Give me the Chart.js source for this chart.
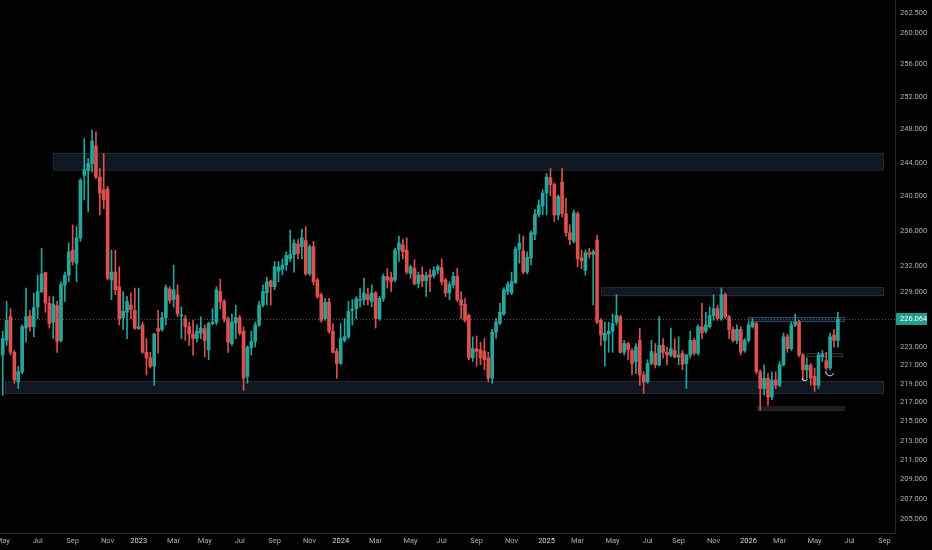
<!DOCTYPE html>
<html>
<head>
<meta charset="utf-8">
<script src="https://cdn.jsdelivr.net/npm/chart.js@4.4.0/dist/chart.umd.min.js"></script>
<style>
  html, body { margin: 0; padding: 0; background: #000; }
  #chart { display: block; }
</style>
</head>
<body>
<canvas id="chart" width="932" height="550"></canvas>
<script>
// weekly candles, first bar = week of 2022-05-02
const open = [
  222.1, 223.7, 226.3, 222.4, 219.2, 220.3, 225.05, 226.4, 225.2, 227.4,
  229.1, 231.25, 227.8, 225.7, 227.55, 223.7, 229.85, 230.95, 233.8, 232.3,
  235.2, 242.5, 243.1, 243.9, 246.0, 242.3, 240.8, 240.9, 230.4, 231.3,
  229.65, 226.2, 226.8, 227.6, 227.0, 225.0, 225.4, 222.4, 221.8, 220.9,
  225.0, 224.9, 226.2, 229.4, 228.2, 228.75, 226.4, 226.1, 225.2, 224.4,
  223.9, 224.5, 225.0, 222.7, 225.55, 225.7, 229.1, 228.0, 226.1, 223.35,
  225.6, 226.2, 224.7, 219.8, 222.9, 223.6, 225.4, 227.6, 228.95, 230.3,
  229.65, 231.4, 231.6, 232.1, 232.8, 233.3, 234.5, 234.2, 234.9, 231.1,
  234.2, 230.4, 228.75, 226.1, 227.9, 224.7, 222.5, 221.2, 223.7, 224.1,
  227.0, 227.2, 228.1, 228.2, 228.75, 228.0, 228.95, 226.1, 228.35, 230.8,
  230.7, 230.4, 233.8, 234.4, 233.8, 231.1, 231.7, 230.0, 231.0, 230.3,
  231.0, 230.9, 231.5, 231.8, 230.4, 228.95, 229.85, 230.8, 228.2, 227.7,
  226.45, 221.8, 222.8, 222.7, 222.5, 221.8, 219.6, 224.6, 225.6, 226.6,
  229.1, 228.95, 230.1, 233.9, 233.7, 231.3, 232.9, 235.6, 237.9, 238.9,
  240.4, 242.2, 241.4, 237.85, 241.7, 238.0, 235.8, 234.8, 238.0, 232.9,
  231.5, 233.5, 233.3, 234.9, 225.9, 223.7, 224.4, 224.7, 225.7, 226.3,
  222.4, 223.35, 222.6, 221.4, 223.7, 219.95, 219.2, 221.2, 222.3, 221.05,
  223.15, 222.4, 222.1, 222.6, 221.9, 222.3, 221.2, 222.1, 223.7, 222.3,
  225.2, 224.7, 225.2, 226.45, 227.2, 226.1, 228.75, 226.3, 224.9, 223.7,
  224.9, 222.6, 223.7, 225.2, 225.55, 220.3, 218.5, 219.6, 217.6, 219.4,
  218.85, 221.05, 224.1, 222.8, 225.4, 225.7, 222.1, 220.5, 221.0, 219.8,
  218.85, 221.9, 221.5, 220.7, 224.3, 223.7
];
const high = [
  224.7, 228.0, 227.2, 222.6, 220.9, 225.4, 229.5, 227.0, 228.95, 230.95,
  234.0, 231.3, 228.55, 228.55, 228.0, 230.2, 231.3, 234.6, 236.7, 236.5,
  242.1, 246.9, 244.5, 247.9, 247.7, 243.3, 245.1, 241.2, 233.8, 233.8,
  231.9, 229.1, 228.55, 228.95, 229.5, 229.5, 225.7, 223.9, 222.4, 224.5,
  227.0, 226.8, 229.85, 229.65, 232.1, 229.85, 227.4, 226.45, 225.7, 225.9,
  225.4, 226.3, 225.4, 225.7, 227.2, 229.65, 230.5, 228.2, 226.3, 226.6,
  227.6, 226.45, 225.2, 223.1, 224.7, 225.7, 228.0, 229.85, 230.7, 230.4,
  232.5, 232.5, 232.8, 233.6, 236.1, 235.0, 235.0, 236.2, 236.5, 234.4,
  234.8, 230.6, 228.95, 228.35, 228.35, 225.55, 222.8, 225.55, 226.1, 228.0,
  228.2, 228.55, 229.5, 230.6, 229.5, 229.85, 229.1, 228.55, 231.1, 231.7,
  231.3, 234.0, 235.4, 235.0, 235.2, 232.1, 232.7, 231.3, 231.9, 231.3,
  231.6, 231.9, 232.1, 232.8, 230.6, 230.2, 231.3, 231.7, 229.1, 228.35,
  226.6, 224.1, 224.2, 223.5, 223.9, 222.4, 224.9, 226.1, 227.8, 229.55,
  230.2, 231.3, 234.2, 235.6, 235.4, 233.6, 236.0, 238.5, 239.6, 240.8,
  242.7, 243.3, 241.6, 240.2, 243.3, 239.8, 236.7, 238.4, 238.2, 233.8,
  233.8, 234.0, 233.8, 235.5, 226.1, 225.7, 225.7, 226.6, 228.75, 226.45,
  223.7, 223.5, 222.8, 223.35, 225.05, 220.3, 221.6, 223.7, 223.35, 226.3,
  223.9, 223.0, 225.05, 223.9, 224.1, 222.6, 222.2, 224.7, 223.9, 225.4,
  227.8, 226.8, 227.4, 228.75, 227.6, 229.5, 228.95, 226.45, 225.2, 225.4,
  225.2, 223.9, 225.7, 226.1, 225.7, 220.5, 221.05, 220.1, 220.3, 220.3,
  221.4, 224.5, 224.4, 225.7, 226.6, 225.9, 222.3, 221.8, 221.2, 220.7,
  222.4, 222.6, 222.4, 224.5, 224.9, 226.8
];
const low = [
  217.8, 223.15, 222.1, 219.05, 218.5, 220.1, 223.5, 224.7, 224.1, 226.1,
  229.0, 226.8, 225.05, 223.9, 222.4, 223.5, 228.0, 230.2, 232.1, 230.2,
  234.8, 239.6, 238.2, 242.9, 242.1, 237.85, 238.6, 230.4, 228.2, 228.75,
  225.4, 224.9, 223.9, 226.1, 224.9, 224.9, 222.3, 219.95, 220.7, 218.85,
  222.3, 224.7, 225.4, 227.8, 227.4, 226.3, 223.9, 223.7, 223.15, 222.1,
  223.5, 223.9, 221.9, 221.6, 225.4, 225.4, 227.2, 225.7, 222.4, 223.15,
  223.9, 224.3, 218.3, 219.05, 222.1, 223.0, 225.2, 227.4, 227.6, 227.6,
  229.3, 230.2, 231.0, 231.5, 232.5, 231.3, 232.8, 232.8, 230.95, 230.9,
  229.85, 228.35, 225.7, 225.9, 224.5, 222.3, 219.6, 221.05, 223.5, 223.9,
  225.4, 226.1, 227.4, 227.6, 227.6, 227.4, 225.05, 225.9, 228.0, 229.5,
  229.1, 230.2, 232.5, 232.8, 231.1, 230.6, 229.85, 229.5, 229.65, 228.55,
  229.1, 230.6, 231.1, 229.85, 228.55, 228.2, 229.5, 228.0, 226.1, 225.7,
  221.6, 221.4, 220.9, 221.05, 220.5, 219.2, 219.05, 223.9, 225.4, 226.45,
  228.75, 228.75, 230.0, 232.3, 231.1, 231.1, 232.1, 235.0, 237.6, 237.85,
  237.85, 240.1, 237.1, 237.3, 237.6, 235.4, 234.4, 234.6, 231.9, 231.7,
  230.95, 232.9, 227.6, 225.55, 223.15, 220.9, 222.4, 222.4, 225.4, 222.3,
  222.1, 221.6, 219.95, 220.1, 218.85, 218.0, 219.05, 221.05, 220.7, 220.9,
  221.8, 221.05, 221.9, 221.8, 221.05, 220.5, 218.5, 221.8, 222.1, 222.1,
  223.9, 224.5, 225.05, 225.9, 225.9, 225.9, 226.1, 223.9, 223.5, 223.35,
  222.1, 222.4, 223.5, 225.05, 220.1, 216.2, 217.8, 216.7, 217.3, 218.5,
  218.7, 220.9, 222.4, 222.6, 225.2, 221.9, 219.4, 219.6, 218.85, 218.2,
  218.5, 221.4, 220.5, 220.5, 222.95, 222.95
];
const close = [
  223.9, 225.9, 222.4, 219.4, 220.3, 225.2, 226.3, 225.2, 227.3, 229.1,
  231.1, 227.8, 225.55, 227.7, 223.6, 229.9, 230.95, 233.6, 232.5, 235.2,
  241.9, 243.2, 243.9, 246.6, 242.3, 240.4, 239.6, 230.6, 231.3, 229.3,
  226.1, 226.9, 228.0, 227.1, 225.05, 225.2, 222.4, 221.8, 220.9, 224.4,
  224.7, 226.2, 229.55, 228.1, 229.3, 226.6, 226.45, 225.2, 224.4, 223.9,
  224.7, 225.05, 223.7, 225.55, 225.7, 229.3, 228.0, 226.1, 223.5, 225.7,
  226.2, 224.5, 219.6, 222.95, 223.6, 225.4, 227.6, 229.1, 230.2, 229.65,
  231.9, 231.9, 232.1, 233.2, 233.3, 234.6, 233.4, 235.2, 231.1, 234.2,
  230.2, 228.55, 225.9, 227.9, 224.7, 222.4, 221.2, 223.9, 224.1, 226.9,
  227.15, 228.3, 228.2, 228.95, 228.2, 228.95, 226.1, 228.35, 230.8, 230.4,
  230.2, 233.8, 234.6, 233.6, 231.3, 231.9, 230.0, 230.95, 230.3, 230.9,
  230.7, 231.5, 231.9, 230.2, 228.95, 229.9, 230.8, 228.2, 227.6, 225.9,
  221.8, 222.8, 222.5, 221.8, 221.6, 219.6, 224.6, 225.7, 226.8, 229.3,
  229.9, 230.2, 233.9, 234.6, 231.3, 233.0, 235.8, 237.9, 239.0, 240.4,
  242.3, 241.4, 237.85, 240.0, 238.0, 235.8, 235.0, 238.1, 232.8, 232.6,
  233.5, 233.3, 233.6, 225.7, 224.3, 224.5, 224.7, 225.55, 226.45, 222.4,
  223.35, 222.7, 221.2, 223.0, 219.95, 219.2, 221.2, 222.5, 221.05, 223.15,
  222.4, 222.1, 222.8, 221.9, 222.1, 221.1, 222.1, 223.7, 222.3, 225.2,
  224.5, 225.4, 226.45, 227.2, 226.1, 228.75, 226.3, 224.9, 223.7, 224.9,
  222.4, 223.7, 225.4, 225.7, 220.3, 218.5, 219.6, 217.6, 219.4, 218.85,
  221.05, 224.1, 222.8, 225.4, 225.7, 222.1, 220.5, 221.0, 219.6, 218.85,
  222.1, 222.2, 220.7, 224.1, 223.7, 226.064
];

const yTicks = [262.5, 260, 256, 252, 248, 244, 240, 236, 232, 229, 223, 221, 219, 217, 215, 213, 211, 209, 207, 205];
const xTickMonths = [
  "2022-05", "2022-07", "2022-09", "2022-11", "2023-01", "2023-03", "2023-05", "2023-07", "2023-09",
  "2023-11", "2024-01", "2024-03", "2024-05", "2024-07", "2024-09", "2024-11", "2025-01", "2025-03",
  "2025-05", "2025-07", "2025-09", "2025-11", "2026-01", "2026-03", "2026-05", "2026-07", "2026-09"
];
const xTickLabels = [
  "May", "Jul", "Sep", "Nov", "2023", "Mar", "May", "Jul", "Sep",
  "Nov", "2024", "Mar", "May", "Jul", "Sep", "Nov", "2025", "Mar",
  "May", "Jul", "Sep", "Nov", "2026", "Mar", "May", "Jul", "Sep"
];

// drawn zones: [from bar, to bar, low price, high price]
const zones = [
  [12.9, 226.8, 243.1, 245.2],
  [0.6, 226.8, 217.9, 219.3],
  [154.0, 226.8, 228.55, 229.6],
  [191.9, 216.8, 225.7, 226.3],
  [207.0, 216.2, 221.9, 222.3],
  [194.1, 216.8, 216.1, 216.6]
];
// small hand-drawn arcs: [bar, price]
const marks = [[206.5, 219.6], [212.9, 220.3]];

const zoneStyles = [
  { fill: "rgba(26,38,54,0.6)", line: "rgba(50,64,80,0.5)" },
  { fill: "rgba(26,38,54,0.6)", line: "rgba(50,64,80,0.5)" },
  { fill: "rgba(26,38,54,0.6)", line: "rgba(50,64,80,0.5)" },
  { fill: "rgba(35,65,105,0.35)", line: "rgba(75,105,140,0.55)" },
  { fill: "rgba(40,40,40,0.3)", line: "rgba(85,85,85,0.5)" },
  { fill: "rgba(50,50,54,0.6)", line: "rgba(50,50,54,0.4)" }
];

const upColor = "#26a69a";
const downColor = "#dc504e";
const lastPrice = close[close.length - 1];
const barColors = close.map((c, i) => (c >= open[i] ? upColor : downColor));

function firstBarOfMonth(m) {
  const [yy, mm] = m.split("-").map(Number);
  const start = Date.UTC(2022, 4, 2);
  return Math.max(0, Math.ceil((Date.UTC(yy, mm - 1, 1) - start) / (7 * 864e5)));
}
const xTickPos = xTickMonths.map(firstBarOfMonth);

const overlay = {
  id: "overlay",
  beforeDatasetsDraw(chart) {
    const { ctx, chartArea: a, scales: { x, y } } = chart;
    ctx.save();
    ctx.beginPath();
    ctx.rect(a.left, a.top, a.width, a.height);
    ctx.clip();
    zones.forEach((z, k) => {
      const st = zoneStyles[k];
      const x0 = x.getPixelForValue(z[0]), x1 = x.getPixelForValue(z[1]);
      const y0 = y.getPixelForValue(z[3]), y1 = y.getPixelForValue(z[2]);
      ctx.fillStyle = st.fill;
      ctx.fillRect(x0, y0, x1 - x0, y1 - y0);
      ctx.strokeStyle = st.line;
      ctx.lineWidth = 1;
      ctx.strokeRect(Math.round(x0) + 0.5, Math.round(y0) + 0.5, Math.round(x1 - x0) - 1, Math.round(y1 - y0) - 1);
    });
    const py = Math.round(y.getPixelForValue(lastPrice)) + 0.5;
    ctx.setLineDash([1, 2]);
    ctx.strokeStyle = "rgba(120,110,100,0.75)";
    ctx.beginPath();
    ctx.moveTo(a.left, py);
    ctx.lineTo(a.right, py);
    ctx.stroke();
    ctx.restore();
  },
  afterDatasetsDraw(chart) {
    const { ctx, scales: { x, y } } = chart;
    ctx.save();
    ctx.strokeStyle = "#e8e8e8";
    ctx.lineWidth = 1;
    marks.forEach((m, k) => {
      const cx = x.getPixelForValue(m[0]), cy = y.getPixelForValue(m[1]);
      const r = k === 0 ? 2.5 : 4;
      ctx.beginPath();
      ctx.arc(cx, cy, r, 0.1 * Math.PI, 1.05 * Math.PI);
      ctx.stroke();
    });
    ctx.restore();
  },
  afterDraw(chart) {
    const { ctx, chartArea: a, scales: { y } } = chart;
    const py = y.getPixelForValue(lastPrice);
    ctx.save();
    ctx.fillStyle = "#1f9e8c";
    ctx.fillRect(a.right + 1, Math.round(py) - 6, 31, 12);
    ctx.fillStyle = "#ffffff";
    ctx.font = "7.5px Roboto";
    ctx.textBaseline = "middle";
    ctx.fillText(lastPrice.toFixed(3), a.right + 5, py);
    ctx.restore();
  }
};

new Chart(document.getElementById("chart"), {
  type: "bar",
  data: {
    datasets: [
      {
        data: open.map((o, i) => ({ x: i, y: [o, close[i]] })),
        backgroundColor: barColors,
        barThickness: 3,
        minBarLength: 1,
        grouped: false,
        borderWidth: 0
      },
      {
        data: open.map((o, i) => ({ x: i, y: [low[i], high[i]] })),
        backgroundColor: barColors,
        barThickness: 1,
        grouped: false,
        borderWidth: 0
      }
    ]
  },
  options: {
    responsive: false,
    animation: false,
    layout: { padding: 0 },
    plugins: { legend: { display: false }, tooltip: { enabled: false } },
    scales: {
      x: {
        type: "linear",
        min: -0.7,
        max: 229.7,
        offset: false,
        bounds: "data",
        grid: { display: false, drawTicks: false, offset: false },
        border: { display: true, color: "#26262a" },
        ticks: {
          autoSkip: false,
          maxRotation: 0,
          padding: 4,
          font: { size: 7.5, family: "Roboto" },
          color: c => (/^\d{4}$/.test(xTickLabels[c.index]) ? "#dcdee3" : "#a8abb2"),
          callback: (v, i) => xTickLabels[i]
        },
        afterBuildTicks: s => { s.ticks = xTickPos.map(v => ({ value: v })); },
        afterFit: s => { s.height = 17; s.paddingLeft = 0; s.paddingRight = 0; }
      },
      y: {
        type: "logarithmic",
        position: "right",
        min: 203.6,
        max: 264.2,
        bounds: "data",
        grid: { display: false, drawTicks: false },
        border: { display: true, color: "#26262a" },
        ticks: {
          autoSkip: false,
          padding: 5,
          font: { size: 7.5, family: "Roboto" },
          color: "#adb0b8",
          callback: v => Number(v).toFixed(3)
        },
        afterBuildTicks: s => { s.ticks = yTicks.map(v => ({ value: v })); },
        afterFit: s => { s.width = 37; s.paddingTop = 0; s.paddingBottom = 0; }
      }
    }
  },
  plugins: [overlay]
});
</script>
</body>
</html>
